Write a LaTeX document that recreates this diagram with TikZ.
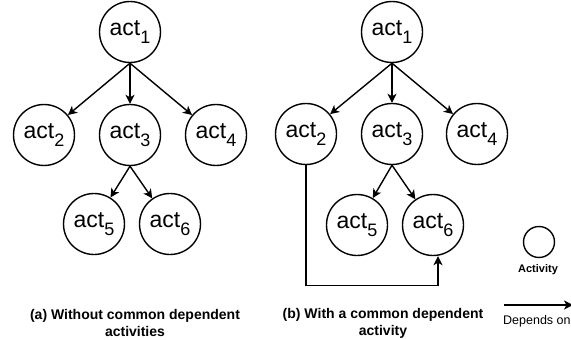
\documentclass[tikz,border=0pt]{standalone}
\usepackage{fontspec}
\setmainfont{Liberation Sans}
\usetikzlibrary{arrows.meta,positioning}
\tikzset{>={Stealth[length=9pt,width=9pt,inset=2.5pt]}}
\tikzset{actnode/.style={circle,draw,line width=1.4pt,minimum size=61pt,inner sep=0pt,font=\fontsize{23}{23}\selectfont},
	dep/.style={->,line width=1.4pt},
	caption/.style={align=center,font=\bfseries\fontsize{14}{17}\selectfont}}
\newcommand{\actlbl}[1]{act\raisebox{-8pt}{\fontsize{18}{18}\selectfont #1}}

\begin{document}
\begin{tikzpicture}[x=1pt,y=-1pt]
				\useasboundingbox (0,0) rectangle (571,340);
				% (a) without common dependent activities
				\node[actnode] (a1) at (130,32) {\actlbl{1}};
				\node[actnode] (a2) at (44,135) {\actlbl{2}};
				\node[actnode] (a3) at (130,135) {\actlbl{3}};
				\node[actnode] (a4) at (216,135) {\actlbl{4}};
				\node[actnode] (a5) at (94,224) {\actlbl{5}};
				\node[actnode] (a6) at (170,224) {\actlbl{6}};
				\draw[dep] (a1.south) -- (a2);
				\draw[dep] (a1.south) -- (a3.north);
				\draw[dep] (a1.south) -- (a4);
				\draw[dep] (a3.south) -- (a5);
				\draw[dep] (a3.south) -- (a6);
				\node[caption] (capa) at (135,323) {(a) Without common dependent\\activities};
				% (b) with a common dependent activity
				\node[actnode] (b1) at (392,32) {\actlbl{1}};
				\node[actnode] (b2) at (306,134) {\actlbl{2}};
				\node[actnode] (b3) at (392,134) {\actlbl{3}};
				\node[actnode] (b4) at (477,134) {\actlbl{4}};
				\node[actnode] (b5) at (357,225) {\actlbl{5}};
				\node[actnode] (b6) at (433,225) {\actlbl{6}};
				\draw[dep] (b1.south) -- (b2);
				\draw[dep] (b1.south) -- (b3.north);
				\draw[dep] (b1.south) -- (b4);
				\draw[dep] (b3.south) -- (b5);
				\draw[dep] (b3.south) -- (b6);
				\draw[dep] (b2.south) -- ++(0,120) -| ([xshift=5pt]b6.south);
				\node[caption] (capb) at (383,323) {(b) With a common dependent\\activity};
				% legend
				\node[circle,draw,line width=1.4pt,minimum size=31pt,inner sep=0pt] (lgact) at (539,242) {};
				\node[font=\bfseries\fontsize{11}{11}\selectfont] (lgacttxt) at (538,270) {Activity};
				\coordinate (lgfrom) at (504,305);
				\coordinate (lgto) at (573,305);
				\draw[->,line width=2pt] (lgfrom) -- (lgto);
				\node[anchor=west,inner sep=0pt,font=\fontsize{12.5}{12.5}\selectfont] (lgdeptxt) at (503,321) {Depends on};
				\end{tikzpicture}
\end{document}
